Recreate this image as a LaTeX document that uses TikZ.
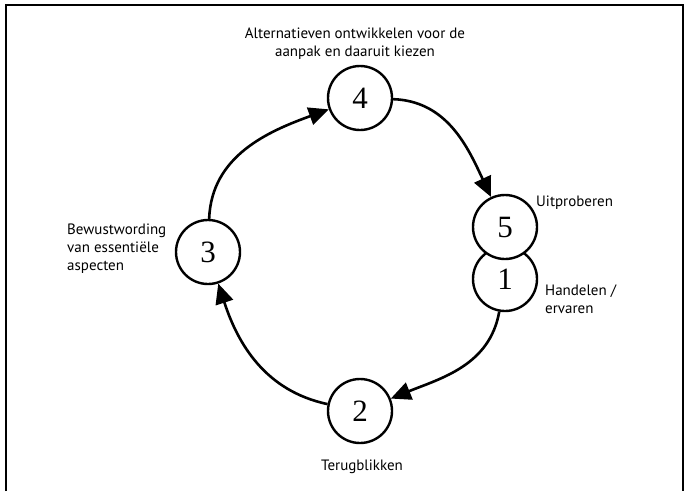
\documentclass[tikz,border=0pt]{standalone}
\usepackage{fontspec}
\setmainfont{PT Sans}
\newfontfamily\digitfont{Liberation Serif}
\usetikzlibrary{arrows.meta}

\begin{document}
\begin{tikzpicture}[x=1pt,y=-1pt]

      \useasboundingbox (0,0) rectangle (686,491);
      \draw[line width=1.3pt] (6,491) -- (6,5) -- (683,5) -- (683,491);

      \begin{scope}[every node/.style={circle,draw,fill=white,line width=2.4pt,
          minimum size=64pt,inner sep=0pt,font=\digitfont\fontsize{31}{31}\selectfont}]
        \node (4) at (360,98)  {4};
        \node (3) at (208,252) {3};
        \node (2) at (360,411) {2};
        \node (1) at (505,279) {1};
        \node (5) at (505,227) {5};
      \end{scope}

      \begin{scope}[every node/.style={font=\fontsize{15}{18}\selectfont,inner sep=0pt}]
        \node[align=center] (alt) at (355,44) {Alternatieven ontwikkelen voor de\\aanpak en daaruit kiezen};
        \node[anchor=west] (uit) at (536,203) {Uitproberen};
        \node[anchor=west,align=left] (han) at (545,299) {Handelen /\\ervaren};
        \node[anchor=west,align=left] (bew) at (67,249) {Bewustwording\\van essentiële\\aspecten};
        \node (ter) at (362,467) {Terugblikken};
      \end{scope}

      \begin{scope}[line width=2.6pt,-{Triangle[length=20pt,width=18pt]}]
        \path (1) edge[out=-100,in=22] (2);
        \path (2) edge[out=168,in=-72] (3);
        \path (3) edge[out=88,in=200] (4);
        \path (4) edge[out=-2,in=115] (5);
      \end{scope}

    \end{tikzpicture}
\end{document}
